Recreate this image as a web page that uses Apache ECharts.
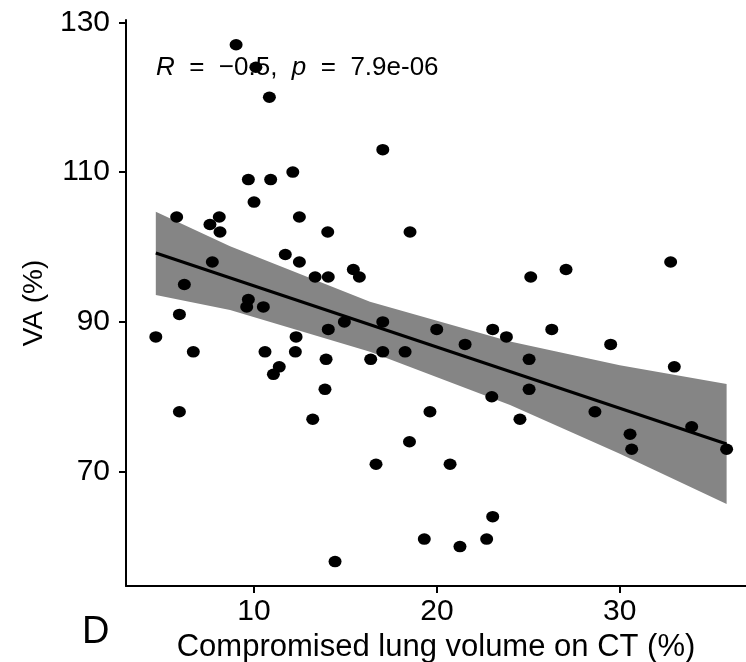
<!DOCTYPE html>
<html>
<head>
<meta charset="utf-8">
<script src="https://cdn.jsdelivr.net/npm/echarts@6/dist/echarts.min.js"></script>
<style>html,body{margin:0;padding:0;background:#fff;}#c{width:746px;height:662px;}</style>
</head>
<body>
<div id="c"></div>
<script>
// Compromised lung volume on CT (%) vs VA (%)
const ctVolume = [9.02,10.1,10.84,12.12,9.69,10.91,10.0,5.77,7.59,8.1,8.14,12.48,14.03,7.72,11.71,12.48,6.19,13.34,14.06,15.43,15.76,9.69,9.6,10.51,5.92,14.06,14.94,17.04,18.53,25.13,27.06,32.78,17.04,19.99,23.05,26.28,4.63,6.68,5.92,10.6,11.38,11.06,12.3,12.26,13.94,13.88,13.21,14.43,16.67,16.38,17.04,18.26,21.54,23.8,25.04,25.04,23.0,19.62,24.54,18.5,20.72,23.05,19.31,22.72,21.26,28.64,29.5,32.98,33.93,30.56,30.65,35.84];
const vaValue = [127,124,120,110,109,109,106,104,103,104,102,104,102,98,99,98,95,96,96,97,96,93,92,92,91,89,90,113,102,96,97,98,90,89,89,89,88,86,78,86,84,83,88,86,85,81,77,58,71,85,86,86,87,88,85,81,80,78,77,74,71,64,61,61,60,78,87,84,76,75,73,73];

// regression line and 95% band
const fitX = [4.63, 35.84];
const fitY = [99.2, 73.7];
const bandX = [4.63, 8.69, 16.34, 24.0, 30.0, 35.84];
const bandUpper = [104.7, 100.1, 92.7, 87.4, 84.2, 81.7];
const bandLower = [93.6, 91.6, 86.0, 78.9, 72.4, 65.7];

const xTicks = [10, 20, 30];
const yTicks = [70, 90, 110, 130];

const FONT = 'Liberation Sans';
const chart = echarts.init(document.getElementById('c'), null, {renderer: 'canvas'});

const points = ctVolume.map((x, i) => [x, vaValue[i]]);
const bandData = bandX.map((x, i) => [x, bandUpper[i], bandLower[i]]);

chart.setOption({
  animation: false,
  backgroundColor: '#ffffff',
  textStyle: {fontFamily: FONT},
  title: [
    {
      left: 156, top: 55, padding: 0,
      text: '{i|R}  =  −0.5,  {i|p}  =  7.9e-06',
      textStyle: {
        fontFamily: FONT, fontSize: 26, fontWeight: 'normal', color: '#000',
        rich: {i: {fontFamily: FONT, fontSize: 26, fontStyle: 'italic', color: '#000'}}
      }
    },
    {
      left: 82, top: 614, padding: 0,
      text: 'D',
      textStyle: {fontFamily: FONT, fontSize: 38, fontWeight: 'normal', color: '#000'}
    }
  ],
  grid: {left: 126, right: 0, top: 20, bottom: 76, containLabel: false, outerBoundsMode: 'none'},
  xAxis: {
    type: 'value', min: 3.0, max: 36.9,
    name: 'Compromised lung volume on CT (%)',
    nameLocation: 'middle', nameGap: 38,
    nameTextStyle: {fontFamily: FONT, fontSize: 31, color: '#000'},
    axisLine: {show: true, lineStyle: {color: '#000', width: 2}},
    axisTick: {show: true, length: 7, lineStyle: {color: '#000', width: 2}, customValues: xTicks},
    axisLabel: {show: true, fontFamily: FONT, fontSize: 30, color: '#000', margin: 11, customValues: xTicks},
    splitLine: {show: false}
  },
  yAxis: {
    type: 'value', min: 54.74, max: 130.31,
    name: 'VA (%)',
    nameLocation: 'middle', nameGap: 78,
    nameTextStyle: {fontFamily: FONT, fontSize: 28, color: '#000'},
    axisLine: {show: true, lineStyle: {color: '#000', width: 2}},
    axisTick: {show: true, length: 7, lineStyle: {color: '#000', width: 2}, customValues: yTicks},
    axisLabel: {show: true, fontFamily: FONT, fontSize: 30, color: '#000', margin: 16, customValues: yTicks},
    splitLine: {show: false}
  },
  series: [
    {
      type: 'custom',
      z: 1,
      data: bandData,
      encode: {x: 0, y: [1, 2]},
      renderItem: function (params, api) {
        if (params.dataIndex !== 0) return null;
        const pts = [];
        for (let i = 0; i < bandX.length; i++) pts.push(api.coord([bandX[i], bandUpper[i]]));
        for (let i = bandX.length - 1; i >= 0; i--) pts.push(api.coord([bandX[i], bandLower[i]]));
        return {type: 'polygon', shape: {points: pts}, style: {fill: '#858585', stroke: null}};
      },
      silent: true
    },
    {
      type: 'line',
      z: 2,
      data: fitX.map((x, i) => [x, fitY[i]]),
      symbol: 'none',
      lineStyle: {color: '#000', width: 3},
      silent: true
    },
    {
      type: 'scatter',
      z: 3,
      data: points,
      symbol: 'circle',
      symbolSize: [13, 11.5],
      itemStyle: {color: '#000', opacity: 1}
    }
  ]
});
</script>
</body>
</html>
